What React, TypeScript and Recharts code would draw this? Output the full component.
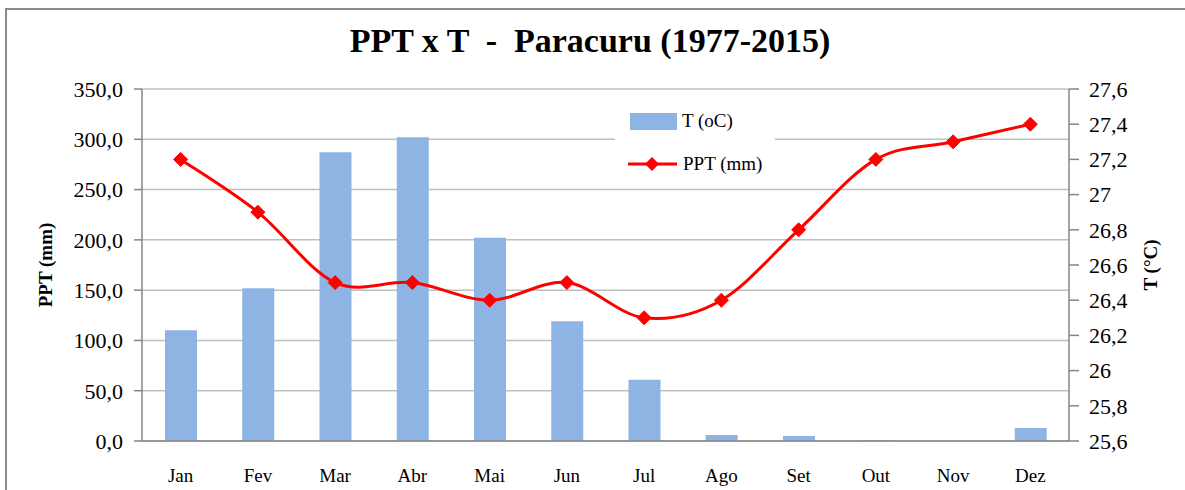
import { ComposedChart, Bar, Line, XAxis, YAxis, CartesianGrid, Legend } from 'recharts';

const months = ['Jan', 'Fev', 'Mar', 'Abr', 'Mai', 'Jun', 'Jul', 'Ago', 'Set', 'Out', 'Nov', 'Dez'];
const ppt = [110, 152, 287, 302, 202, 119, 61, 6, 5, 1, 0, 13];
const temp = [27.2, 26.9, 26.5, 26.5, 26.4, 26.5, 26.3, 26.4, 26.8, 27.2, 27.3, 27.4];
const pptTicks = [0, 50, 100, 150, 200, 250, 300, 350];
const tempTicks = [25.6, 25.8, 26, 26.2, 26.4, 26.6, 26.8, 27, 27.2, 27.4, 27.6];

const data = months.map((m, i) => ({ month: m, ppt: ppt[i], temp: temp[i] }));

const FONT = '"Liberation Serif", "Times New Roman", serif';
const BAR = '#8EB4E3';
const RED = '#FF0000';
const AXIS = '#868686';

// Excel-like smoothed line (Catmull-Rom through the points)
function smoothCurve(context: any) {
  let pts: number[][] = [];
  return {
    areaStart() {},
    areaEnd() {},
    lineStart() {
      pts = [];
    },
    point(x: number, y: number) {
      pts.push([+x, +y]);
    },
    lineEnd() {
      if (!pts.length) return;
      context.moveTo(pts[0][0], pts[0][1]);
      for (let i = 0; i < pts.length - 1; i++) {
        const p0 = pts[i - 1] || pts[i];
        const p1 = pts[i];
        const p2 = pts[i + 1];
        const p3 = pts[i + 2] || p2;
        context.bezierCurveTo(
          p1[0] + (p2[0] - p0[0]) / 6,
          p1[1] + (p2[1] - p0[1]) / 6,
          p2[0] - (p3[0] - p1[0]) / 6,
          p2[1] - (p3[1] - p1[1]) / 6,
          p2[0],
          p2[1]
        );
      }
    },
  };
}

const Diamond = (props: any) => {
  const { cx, cy } = props;
  if (cx == null || cy == null) return null;
  const r = 7;
  return (
    <polygon
      points={`${cx},${cy - r} ${cx + r},${cy} ${cx},${cy + r} ${cx - r},${cy}`}
      fill={RED}
      stroke={RED}
    />
  );
};

const LegendBox = () => (
  <div style={{ background: '#fff', width: 160, height: 82, fontFamily: FONT, fontSize: 19, color: '#000', position: 'relative' }}>
    <div style={{ position: 'absolute', left: 15, top: 8, width: 47, height: 17, background: BAR }} />
    <div style={{ position: 'absolute', left: 67, top: 4, lineHeight: '24px' }}>T (oC)</div>
    <svg style={{ position: 'absolute', left: 12, top: 50 }} width={52} height={18}>
      <line x1={1} y1={9} x2={50} y2={9} stroke={RED} strokeWidth={3} />
      <polygon points="25,2 32,9 25,16 18,9" fill={RED} />
    </svg>
    <div style={{ position: 'absolute', left: 68, top: 47, lineHeight: '24px' }}>PPT (mm)</div>
  </div>
);

const fmtPpt = (v: number) => v.toFixed(1).replace('.', ',');
const fmtTemp = (v: number) => String(Math.round(v * 10) / 10).replace('.', ',');

export default function App() {
  return (
    <div style={{ position: 'absolute', left: 0, top: 0, width: 1185, height: 490, background: '#fff', overflow: 'hidden' }}>
      {/* frame */}
      <div style={{ position: 'absolute', left: 5, top: 8, width: 1200, height: 500, borderTop: '2px solid #8a8a8a', borderLeft: '2px solid #8a8a8a' }} />
      <div
        style={{
          position: 'absolute',
          left: 0,
          width: 1180,
          top: 22,
          textAlign: 'center',
          fontFamily: FONT,
          fontWeight: 'bold',
          fontSize: 34,
          whiteSpace: 'pre',
          color: '#000',
        }}
      >
        {'PPT x T  -  Paracuru (1977-2015)'}
      </div>
      <ComposedChart
        width={1185}
        height={490}
        data={data}
        margin={{ top: 89, right: 0, bottom: 0, left: 0 }}
        style={{ position: 'absolute', left: 0, top: 0, fontFamily: FONT }}
      >
        <CartesianGrid yAxisId="left" vertical={false} stroke="#BFBFBF" strokeWidth={1.5} />
        <XAxis
          dataKey="month"
          height={49}
          axisLine={{ stroke: AXIS, strokeWidth: 1.5 }}
          tickLine={false}
          tickMargin={22}
          tick={{ fill: '#000', fontSize: 19, fontFamily: FONT }}
        />
        <YAxis
          yAxisId="left"
          width={142}
          domain={[0, 350]}
          ticks={pptTicks}
          tickFormatter={fmtPpt}
          axisLine={{ stroke: AXIS, strokeWidth: 1.5 }}
          tickLine={{ stroke: AXIS, strokeWidth: 1.5 }}
          tickSize={8}
          tickMargin={11}
          tick={{ fill: '#000', fontSize: 22, fontFamily: FONT }}
          label={{
            value: 'PPT (mm)',
            angle: -90,
            position: 'insideLeft',
            offset: 45,
            style: { textAnchor: 'middle', fontWeight: 'bold', fontSize: 19, fill: '#000', fontFamily: FONT },
          }}
        />
        <YAxis
          yAxisId="right"
          orientation="right"
          width={116}
          domain={[25.6, 27.6]}
          ticks={tempTicks}
          interval={0}
          tickFormatter={fmtTemp}
          axisLine={{ stroke: AXIS, strokeWidth: 1.5 }}
          tickLine={{ stroke: AXIS, strokeWidth: 1.5 }}
          tickSize={10}
          tickMargin={10}
          tick={{ fill: '#000', fontSize: 22, fontFamily: FONT }}
          label={{
            value: 'T (°C)',
            angle: -90,
            position: 'insideRight',
            offset: 35,
            style: { textAnchor: 'middle', fontWeight: 'bold', fontSize: 19, fill: '#000', fontFamily: FONT },
          }}
        />
        <Legend
          content={<LegendBox />}
          wrapperStyle={{ left: 615, top: 105, width: 160, height: 0, overflow: 'visible' }}
        />
        <Bar yAxisId="left" dataKey="ppt" name="T (oC)" fill={BAR} barSize={32} isAnimationActive={false} />
        <Line
          yAxisId="right"
          dataKey="temp"
          name="PPT (mm)"
          type={smoothCurve as any}
          stroke={RED}
          strokeWidth={3}
          dot={<Diamond />}
          activeDot={false}
          isAnimationActive={false}
        />
      </ComposedChart>
    </div>
  );
}
